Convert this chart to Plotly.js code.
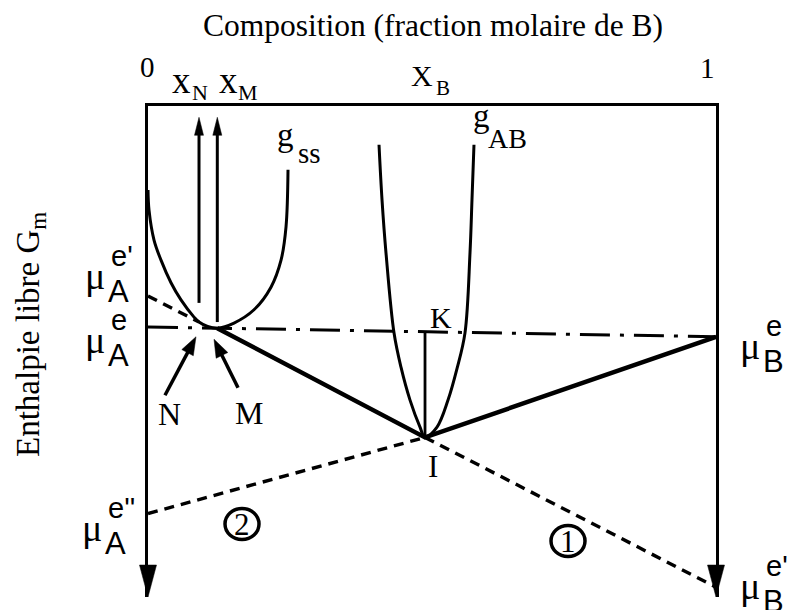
<!DOCTYPE html>
<html>
<head>
<meta charset="utf-8">
<script src="https://cdn.plot.ly/plotly-3.0.1.min.js"></script>
<style>
  html, body { margin: 0; padding: 0; background: #fff; }
  #chart { width: 789px; height: 610px; }
</style>
</head>
<body>
<div id="chart"></div>
<script>
// Molar free enthalpy G_m versus composition X_B (arbitrary G units, 0 at the top frame)

// Solid-solution curve g_ss
const gssX = [0, 0.0018, 0.0106, 0.0229, 0.0405, 0.0581, 0.081, 0.0898, 0.105, 0.122, 0.1514, 0.1866, 0.2165, 0.2342, 0.243, 0.2465];
const gssG = [-17.1, -21.2, -27.3, -31.4, -36.0, -39.5, -43.0, -44.0, -44.9, -45.25, -44.2, -41.5, -36.9, -31.4, -24.6, -13.0];

// Compound curve g_AB
const gabX = [0.4067, 0.4120, 0.4190, 0.4331, 0.4454, 0.4613, 0.4789, 0.4877, 0.5088, 0.5282, 0.5440, 0.5581, 0.5669, 0.5704, 0.5739];
const gabG = [-7.9, -19.1, -29.9, -46.2, -53.2, -59.9, -65.4, -67.5, -65.4, -59.9, -53.5, -46.2, -29.9, -19.1, -7.9];

// Chemical potentials on the pure-A (X_B = 0) and pure-B (X_B = 1) axes
const muA_e = -45.0, muA_e1 = -38.7, muA_e2 = -83.0;
const muB_e = -47.0, muB_e1 = -98.0;

// Tangency points N, M (on g_ss) and I (on g_AB)
const pointX = [0.0898, 0.122, 0.4877];   // N, M, I
const pointG = [-44.0, -45.25, -67.5];

// Vertical arrows x_N and x_M (lower end of each shaft, common tip)
const xArrowX = [0.0898, 0.122];
const xArrowFrom = [-40.1, -44.0];
const xArrowTip = -2.3;

// Pointer arrows labelled N and M (tail -> tip)
const ptrTailX = [0.0299, 0.1585], ptrTailG = [-58.9, -57.4];
const ptrTipX  = [0.0845, 0.1162], ptrTipG  = [-47.0, -47.5];

// ---- plot geometry (pixels) ----
const L = 148, T = 106, W = 568, H = 491;
const G_MIN = -100, G_MAX = 0;
const pxPerG = H / (G_MAX - G_MIN);
const pxPerX = W;

const serif = 'Liberation Serif, Times New Roman, serif';
const sans = 'Liberation Sans, Arial, sans-serif';
const ink = '#000';

const [xN, xM, xI] = pointX;
const [gN, gM, gI] = pointG;
const gK = muA_e + (muB_e - muA_e) * xI;

function line(x, y, width, dash, shape) {
  return { type: 'scatter', mode: 'lines', x: x, y: y, hoverinfo: 'skip', showlegend: false,
           line: { color: ink, width: width, dash: dash || 'solid', shape: shape || 'linear', smoothing: 1 } };
}

const headLenV = 18, headHalfV = 4.5;     // small vertical arrows
const headLenP = 18, headHalfP = 6.5;     // N / M pointers
const headLenAxis = 32, headHalfAxis = 8.5;

const traces = [
  // tangent (1): mu_A^e' -> N ... I -> mu_B^e'
  line([0, xN, null, xI, 1], [muA_e1, gN, null, gI, muB_e1], 3.4, '10px,7px'),
  // tangent (2): mu_A^e'' -> I
  line([0, xI], [muA_e2, gI], 3.4, '10px,7px'),
  // common tangent mu_A^e - M - K - mu_B^e
  line([0, 1], [muA_e, muB_e], 3, '30px,10px,4px,10px'),
  // curves
  line(gssX, gssG, 3, 'solid', 'spline'),
  line(gabX, gabG, 3, 'solid', 'spline'),
  // equilibrium path M -> I -> mu_B^e
  line([xM, xI, 1], [gM, gI, muB_e], 4.5),
  // K - I segment
  line([xI, xI], [gK, gI], 2.8),
];

// x_N, x_M shafts (stop under the arrowheads)
xArrowX.forEach((x, i) => {
  traces.push(line([x, x], [xArrowFrom[i], xArrowTip - 0.6 * headLenV / pxPerG], 3));
});
// N, M pointer shafts
ptrTailX.forEach((x, i) => {
  const dx = (ptrTipX[i] - x) * pxPerX, dy = (ptrTipG[i] - ptrTailG[i]) * pxPerG;
  const n = Math.hypot(dx, dy), k = 0.6 * headLenP / n;
  traces.push(line([x, ptrTipX[i] - k * (ptrTipX[i] - x)],
                   [ptrTailG[i], ptrTipG[i] - k * (ptrTipG[i] - ptrTailG[i])], 3.5));
});

// triangular arrowhead path, tip at anchor, direction (dx, dy) in px with y up
function headPath(dx, dy, len, hw) {
  const n = Math.hypot(dx, dy), ux = dx / n, uy = dy / n;
  const bx = -ux * len, by = -uy * len, px = -uy * hw, py = ux * hw;
  return `M0,0 L${(bx + px).toFixed(2)},${(by + py).toFixed(2)} L${(bx - px).toFixed(2)},${(by - py).toFixed(2)} Z`;
}
function head(xref, yref, x, y, dx, dy, len, hw) {
  return { type: 'path', xref: xref, yref: yref, xsizemode: 'pixel', ysizemode: 'pixel',
           xanchor: x, yanchor: y, path: headPath(dx, dy, len, hw),
           fillcolor: ink, line: { color: ink, width: 0.5 }, layer: 'above' };
}

const shapes = [
  head('paper', 'paper', 0, 0, 0, -1, headLenAxis, headHalfAxis),
  head('paper', 'paper', 1, 0, 0, -1, headLenAxis, headHalfAxis),
];
xArrowX.forEach(x => shapes.push(head('x', 'y', x, xArrowTip, 0, 1, headLenV, headHalfV)));
ptrTailX.forEach((x, i) => {
  shapes.push(head('x', 'y', ptrTipX[i], ptrTipG[i],
                   (ptrTipX[i] - x) * pxPerX, (ptrTipG[i] - ptrTailG[i]) * pxPerG, headLenP, headHalfP));
});

// circled region numbers
const circles = [['2', 242, 524], ['1', 568, 541]];
circles.forEach(c => shapes.push({
  type: 'circle', xref: 'paper', yref: 'paper', xsizemode: 'pixel', ysizemode: 'pixel',
  xanchor: (c[1] - L) / W, yanchor: (T + H - c[2]) / H, x0: -17, x1: 17, y0: -15.5, y1: 15.5,
  line: { color: ink, width: 3.5 }
}));

// text placed by page pixel position
function lab(text, xp, yp, size, family, extra) {
  return Object.assign({
    text: text, xref: 'paper', yref: 'paper', x: (xp - L) / W, y: (T + H - yp) / H,
    xanchor: 'center', yanchor: 'middle', showarrow: false,
    font: { family: family || serif, size: size, color: ink }
  }, extra || {});
}
// mu with stacked superscript / subscript
function mu(sup, sub, x, y) {
  return [
    lab('\u03bc', x, y, 38, serif),
    lab(sup, x + 25, y - 20, 29, sans, { xanchor: 'left', x: (x + 14 - L) / W }),
    lab(sub, x + 23, y + 15, 31, sans, { xanchor: 'left', x: (x + 11 - L) / W }),
  ];
}

const annotations = [
  lab('0', 147, 67, 29), lab('1', 707, 68, 29),
  lab('x', 181, 80, 37), lab('N', 200, 93, 22),
  lab('x', 228, 80, 37), lab('M', 248, 93, 22),
  lab('X', 422, 75, 30), lab('B', 443, 88, 21),
  lab('g', 285, 135, 33), lab('ss', 309, 153, 29),
  lab('g', 481, 116, 33), lab('AB', 507, 138, 28),
  lab('K', 441, 317, 30), lab('I', 433, 466, 31),
  lab('N', 169, 414, 32), lab('M', 249, 413, 32),
  lab('2', 242, 524, 31), lab('1', 568, 541, 31),
  lab('Enthalpie libre G<sub>m</sub>', 30, 335, 33, serif, { textangle: -90 }),
  ...mu("e'", 'A', 95, 276),
  ...mu('e', 'A', 95, 340),
  ...mu("e''", 'A', 92, 528),
  ...mu('e', 'B', 750, 346),
  ...mu("e'", 'B', 750, 586),
];

const layout = {
  width: 789, height: 610,
  margin: { l: L, r: 789 - L - W, t: T, b: 610 - T - H, pad: 0 },
  paper_bgcolor: '#fff', plot_bgcolor: '#fff',
  title: { text: 'Composition (fraction molaire de B)', font: { family: serif, size: 31.5, color: ink },
           xref: 'paper', x: (433 - L) / W, xanchor: 'center', yref: 'container', y: 1 - 25 / 610, yanchor: 'middle' },
  xaxis: { range: [0, 1], side: 'top', showline: true, linewidth: 3.5, linecolor: ink, mirror: false,
           showgrid: false, zeroline: false, showticklabels: false, ticks: '', fixedrange: true },
  yaxis: { range: [G_MIN, G_MAX], showline: true, linewidth: 2.6, linecolor: ink, mirror: true,
           showgrid: false, zeroline: false, showticklabels: false, ticks: '', fixedrange: true },
  shapes: shapes,
  annotations: annotations,
  showlegend: false,
};

Plotly.newPlot('chart', traces, layout, { displayModeBar: false, staticPlot: true });
</script>
</body>
</html>
